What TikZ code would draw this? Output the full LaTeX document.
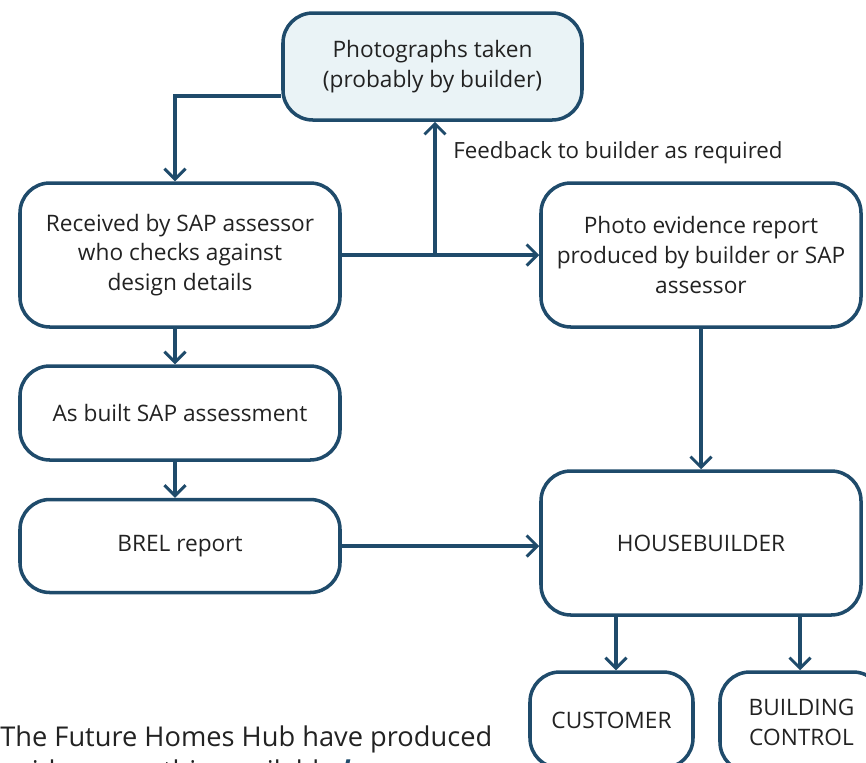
\documentclass[tikz,border=0pt]{standalone}
\usepackage{fontspec}
\setmainfont{Open Sans}
\usetikzlibrary{arrows.meta}
\definecolor{edge}{HTML}{1F4B6B}
\definecolor{pale}{HTML}{EAF3F6}
\definecolor{ink}{HTML}{222222}
\tikzset{
  box/.style={draw=edge, line width=2pt, rounded corners=17pt, align=center,
    text=ink, font=\fontsize{12.9}{17}\selectfont, inner sep=0pt},
  arr/.style={draw=edge, line width=2pt, -{Straight Barb[length=6pt,width=12pt,line width=1.7pt]}},
}
\begin{document}
\begin{tikzpicture}[x=0.02cm, y=-0.02cm]
\clip (0,0) rectangle (866,762);
\useasboundingbox (0,0) rectangle (866,762);
\node[box, fill=pale, minimum width=299*0.02cm, minimum height=107*0.02cm] (photos) at (432.5,66.5) {Photographs taken\\(probably by builder)};
\node[box, minimum width=320*0.02cm, minimum height=144*0.02cm] (sap) at (180,255) {Received by SAP assessor\\who checks against\\design details};
\node[box, minimum width=320*0.02cm, minimum height=144*0.02cm] (report) at (701,255) {Photo evidence report\\produced by builder or SAP\\assessor};
\node[box, minimum width=320*0.02cm, minimum height=94*0.02cm] (asbuilt) at (180,413) {As built SAP assessment};
\node[box, minimum width=320*0.02cm, minimum height=93*0.02cm] (brel) at (180,546) {BREL report};
\node[box, minimum width=320*0.02cm, minimum height=144*0.02cm] (hb) at (701,543) {HOUSEBUILDER};
\node[box, minimum width=163*0.02cm, minimum height=96*0.02cm] (cust) at (611.5,720) {CUSTOMER};
\node[box, minimum width=163*0.02cm, minimum height=100*0.02cm] (bc) at (801.5,722) {BUILDING\\CONTROL};
\coordinate (fb) at (435,255);
\node[anchor=west, text=ink, font=\fontsize{12.7}{17}\selectfont, inner sep=0pt] (fbtxt) at (453,153) {Feedback to builder as required};
\node[anchor=base west, text=ink, font=\fontsize{15.5}{19}\selectfont, inner sep=0pt, align=left] (note) at (0,780) {The Future Homes Hub have produced\\guidance on this, available \textcolor{edge}{\textbf{\textit{here}}}};
\draw[arr] (photos.west |- 0,96) -| (sap.north -| 175,0);
\draw[arr] (sap.south -| 175,0) -- (asbuilt.north -| 175,0);
\draw[arr] (asbuilt.south -| 175,0) -- (brel.north -| 175,0);
\draw[arr] (sap.east) -- (report.west);
\draw[arr] (fb) -- (photos.south -| fb);
\draw[arr] (report.south) -- (hb.north);
\draw[arr] (brel.east) -- (hb.west |- brel.east);
\draw[arr] (hb.south -| 616,0) -- (cust.north -| 616,0);
\draw[arr] (hb.south -| 800,0) -- (bc.north -| 800,0);
\end{tikzpicture}
\end{document}
